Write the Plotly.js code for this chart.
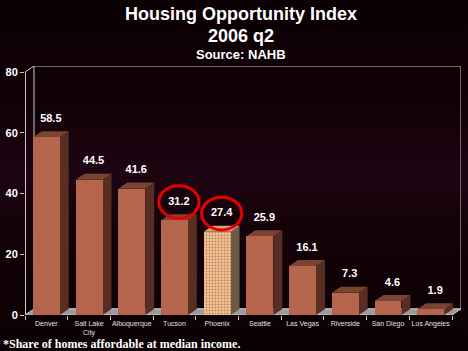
<!DOCTYPE html>
<html><head><meta charset="utf-8">
<script src="https://cdn.plot.ly/plotly-3.0.1.min.js"></script>
<style>
html,body{margin:0;padding:0;width:468px;height:351px;overflow:hidden;
background:linear-gradient(to bottom,#0b0003 0%,#120108 30%,#1e0512 50%,#140209 65%,#0a0002 100%);}
#chart{width:468px;height:351px;}
</style></head><body>
<div id="chart"></div>
<script>
const categories = ["Denver","Salt Lake<br>City","Albuquerque","Tucson","Phoenix","Seattle","Las Vegas","Riverside","San Diego","Los Angeles"];
const values = [58.5,44.5,41.6,31.2,27.4,25.9,16.1,7.3,4.6,1.9];
const valueLabels = ["58.5","44.5","41.6","31.2","27.4","25.9","16.1","7.3","4.6","1.9"];
const highlighted = ["Tucson","Phoenix"];
const featured = "Phoenix";
const yTicks = [0,20,40,60,80];

const idx = categories.map((c,i)=>i);
const DX = 0.21, DY = 2.0, BW = 0.63;
const XR = [-0.5, 9.5 + DX], YR = [0, 80 + DY];
const isFeat = categories.map(c=>c===featured);
const frontCol = isFeat.map(f=>f?'#fbc08e':'#b5654b');
const sideCol = isFeat.map(f=>f?'#6c5943':'#582e23');
const topCol = isFeat.map(f=>f?'#d9a577':'#7b4332');

const shapes = [];
// back wall
shapes.push({type:'rect',xref:'x',yref:'y',x0:-0.5+DX,x1:9.5+DX,y0:DY,y1:80+DY,
  line:{color:'#c8c8c8',width:1},fillcolor:'rgba(0,0,0,0)',layer:'below'});
// floor
shapes.push({type:'path',xref:'x',yref:'y',layer:'below',
  path:`M${-0.5},0 L${9.5},0 L${9.5+DX},${DY} L${-0.5+DX},${DY} Z`,
  fillcolor:'#9a9a9a',line:{color:'#c8c8c8',width:1}});
// front y axis line and its top diagonal
shapes.push({type:'line',xref:'x',yref:'y',x0:-0.5,x1:-0.5,y0:0,y1:80,line:{color:'#c8c8c8',width:2},layer:'above'});
shapes.push({type:'line',xref:'x',yref:'y',x0:-0.5,x1:-0.5+DX,y0:80,y1:80+DY,line:{color:'#c8c8c8',width:1},layer:'above'});
// 3D faces of bars
idx.forEach(i=>{
  const v = values[i], xl = i-BW/2, xr = i+BW/2;
  shapes.push({type:'path',xref:'x',yref:'y',layer:'below',line:{width:0},fillcolor:sideCol[i],
    path:`M${xr},0 L${xr+DX},${DY} L${xr+DX},${v+DY} L${xr},${v} Z`});
  shapes.push({type:'path',xref:'x',yref:'y',layer:'below',line:{width:0},fillcolor:topCol[i],
    path:`M${xl},${v} L${xr},${v} L${xr+DX},${v+DY} L${xl+DX},${v+DY} Z`});
});
// highlight circles around labels
idx.forEach(i=>{
  if(highlighted.indexOf(categories[i])<0) return;
  const cx = i+DX/2, cy = values[i]+DY+4;
  shapes.push({type:'circle',xref:'x',yref:'y',x0:cx-0.47,x1:cx+0.47,y0:cy-5.4,y1:cy+5.4,
    line:{color:'#e80000',width:3},layer:'above'});
});

const font = 'Arial, "Liberation Sans", sans-serif';
const traces = [
  {type:'bar',x:idx,y:values,width:BW,hoverinfo:'skip',
   marker:{color:frontCol,line:{width:0},
     pattern:{shape:isFeat.map(f=>f?'.':''),fillmode:'overlay',fgcolor:'#d98c5c',fgopacity:0.45,size:3,solidity:0.3}}},
  {type:'scatter',mode:'text',x:idx.map(i=>i+DX/2),y:values.map(v=>v+DY+4),text:valueLabels,
   textposition:'middle center',cliponaxis:false,hoverinfo:'skip',
   textfont:{family:font,size:11,color:'#ffffff',weight:'bold'}}
];

const px = p => (315-p)/249;
const layout = {
  width:468,height:351,
  paper_bgcolor:'rgba(0,0,0,0)',plot_bgcolor:'rgba(0,0,0,0)',
  margin:{l:25,r:7,t:66,b:36},
  showlegend:false,bargap:0,
  xaxis:{range:XR,tickvals:idx,ticktext:categories,ticks:'',showgrid:false,zeroline:false,showline:false,
    ticklabelstandoff:3,
    tickfont:{family:font,size:7,color:'#e0e0e0'},
    minor:{tickvals:idx.map(i=>i-0.5).concat([9.5]),ticks:'outside',ticklen:4,tickcolor:'#c8c8c8',tickwidth:1,showgrid:false}},
  yaxis:{range:YR,tickvals:yTicks,ticktext:yTicks.map(String),ticks:'outside',ticklen:4,tickcolor:'#c8c8c8',
    showgrid:false,zeroline:false,showline:false,
    tickfont:{family:font,size:11,color:'#ffffff',weight:'bold'}},
  shapes:shapes,
  annotations:[
    {text:'<b>Housing Opportunity Index</b>',xref:'paper',yref:'paper',x:0.495,y:px(14),showarrow:false,
     font:{family:font,size:18,color:'#ffffff'},xanchor:'center',yanchor:'middle'},
    {text:'<b>2006 q2</b>',xref:'paper',yref:'paper',x:0.495,y:px(36),showarrow:false,
     font:{family:font,size:18,color:'#ffffff'},xanchor:'center',yanchor:'middle'},
    {text:'<b>Source: NAHB</b>',xref:'paper',yref:'paper',x:0.495,y:px(54),showarrow:false,
     font:{family:font,size:13,color:'#ffffff'},xanchor:'center',yanchor:'middle'},
    {text:'<b>*Share of homes affordable at median income.</b>',xref:'paper',yref:'paper',x:(1-25)/436,y:px(344),
     showarrow:false,font:{family:'"Times New Roman", "Liberation Serif", serif',size:12,color:'#ffffff'},
     xanchor:'left',yanchor:'middle'}
  ]
};
Plotly.newPlot('chart',traces,layout,{staticPlot:true,displayModeBar:false});
</script></body></html>
